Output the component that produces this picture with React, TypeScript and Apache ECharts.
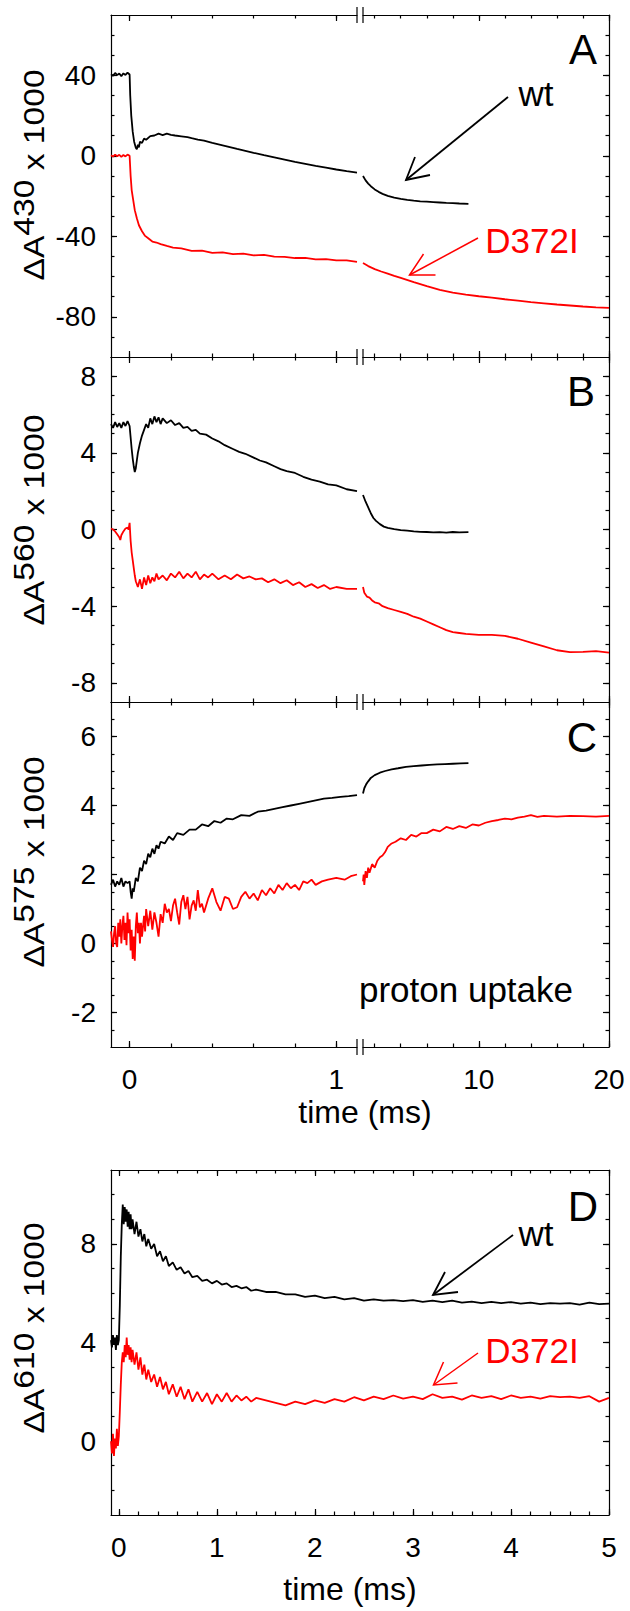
import React, { useEffect, useRef } from "react";
import * as echarts from "echarts";

type Pts = [number, number][];

// ---------------- data (time in ms, value = ΔA x 1000) ----------------
// Panel A : ΔA430
const A_WT_LEFT: Pts = [
  [-0.09, 40.5], [-0.08, 39.8], [-0.07, 41.2], [-0.06, 40.1], [-0.05, 40.9], [-0.04, 39.6], [-0.03, 41.0],
  [-0.02, 40.2], [-0.01, 41.3], [0.0, 40.4], [0.003, 30], [0.008, 20], [0.015, 12], [0.022, 7], [0.03, 4],
  [0.035, 3.2], [0.04, 5.5], [0.045, 4.2], [0.05, 7], [0.06, 6.4], [0.07, 8.6], [0.08, 8], [0.1, 9.8],
  [0.12, 10.1], [0.14, 11], [0.16, 10.3], [0.18, 11], [0.2, 10.4], [0.22, 10.1], [0.25, 9.7], [0.28, 9.3],
  [0.3, 8.8], [0.33, 8.1], [0.36, 7.5], [0.4, 6.4], [0.44, 5.4], [0.48, 4.4], [0.52, 3.4], [0.56, 2.5],
  [0.6, 1.5], [0.65, 0.3], [0.7, -0.8], [0.75, -1.9], [0.8, -3.0], [0.85, -4.0], [0.9, -5.0], [0.95, -5.9],
  [1.0, -6.8], [1.05, -7.6], [1.1, -8.3],
];
const A_WT_RIGHT: Pts = [
  [1.1, -10], [1.3, -12.2], [1.5, -13.8], [1.7, -15.1], [2.0, -16.7], [2.3, -17.9], [2.6, -18.9], [3.0, -19.9],
  [3.5, -20.8], [4.0, -21.4], [4.5, -21.9], [5.0, -22.3], [5.5, -22.6], [6.0, -22.8], [6.5, -23.0], [7.0, -23.2],
  [7.5, -23.4], [8.0, -23.5], [8.5, -23.7], [9.2, -23.9],
];
const A_MUT_LEFT: Pts = [
  [-0.09, 0.3], [-0.08, -0.4], [-0.07, 0.6], [-0.06, -0.2], [-0.05, 0.5], [-0.04, -0.5], [-0.03, 0.4],
  [-0.02, -0.3], [-0.01, 0.6], [0, 0], [0.005, -10], [0.01, -17], [0.016, -21], [0.025, -27], [0.035, -31],
  [0.045, -34.5], [0.06, -37.5], [0.075, -39.8], [0.09, -41], [0.11, -42.6], [0.13, -43.1], [0.15, -43.9],
  [0.18, -44.8], [0.21, -45.6], [0.25, -46.0], [0.3, -47.2], [0.35, -47.1], [0.4, -48.2], [0.45, -48.0],
  [0.5, -48.9], [0.55, -48.6], [0.6, -49.5], [0.65, -49.2], [0.7, -50.1], [0.75, -50.2], [0.8, -50.8],
  [0.85, -50.7], [0.9, -51.5], [0.95, -51.3], [1.0, -52.0], [1.05, -52.0], [1.1, -52.7],
];
const A_MUT_RIGHT: Pts = [
  [1.1, -53.3], [1.5, -54.8], [2, -56.3], [2.5, -57.5], [3, -58.6], [3.5, -59.7], [4, -60.7], [5, -62.8],
  [6, -64.8], [7, -66.6], [8, -68], [9, -69], [10, -69.8], [11, -70.5], [12, -71.3], [13, -72], [14, -72.7],
  [15, -73.3], [16, -73.9], [17, -74.4], [18, -74.9], [19, -75.3], [20, -75.6],
];

// Panel B : ΔA560
const B_WT_LEFT: Pts = [
  [-0.09, 5.5], [-0.08, 5.3], [-0.07, 5.6], [-0.06, 5.35], [-0.05, 5.55], [-0.04, 5.3], [-0.03, 5.6],
  [-0.02, 5.4], [-0.01, 5.65], [0, 5.4], [0.005, 4.8], [0.01, 4.2], [0.015, 3.7], [0.02, 3.3], [0.025, 3.0],
  [0.03, 3.2], [0.035, 3.6], [0.04, 4.0], [0.05, 4.5], [0.06, 4.9], [0.07, 5.2], [0.08, 5.5], [0.09, 5.3],
  [0.1, 5.8], [0.11, 5.5], [0.12, 5.9], [0.13, 5.6], [0.14, 5.85], [0.15, 5.5], [0.16, 5.8], [0.18, 5.55],
  [0.2, 5.7], [0.22, 5.45], [0.24, 5.55], [0.26, 5.3], [0.28, 5.35], [0.3, 5.15], [0.32, 5.2], [0.34, 5.0],
  [0.37, 4.95], [0.4, 4.75], [0.43, 4.6], [0.46, 4.4], [0.5, 4.2], [0.53, 4.05], [0.56, 3.95], [0.6, 3.75],
  [0.63, 3.6], [0.66, 3.5], [0.7, 3.3], [0.73, 3.15], [0.76, 3.05], [0.8, 2.95], [0.84, 2.75], [0.88, 2.6],
  [0.92, 2.5], [0.96, 2.35], [1.0, 2.3], [1.05, 2.1], [1.1, 2.0],
];
const B_WT_RIGHT: Pts = [
  [1.1, 1.8], [1.3, 1.45], [1.5, 1.15], [1.7, 0.85], [1.9, 0.6], [2.1, 0.45], [2.4, 0.28], [2.7, 0.15],
  [3.0, 0.08], [3.5, 0.02], [4, -0.03], [4.5, -0.06], [5, -0.1], [5.5, -0.12], [6, -0.13], [6.5, -0.15],
  [7, -0.14], [7.5, -0.16], [8, -0.13], [8.5, -0.15], [9.2, -0.14],
];
const B_MUT_LEFT: Pts = [
  [-0.09, 0.05], [-0.08, 0.0], [-0.07, -0.1], [-0.06, -0.25], [-0.05, -0.4], [-0.045, -0.55], [-0.04, -0.3],
  [-0.03, -0.1], [-0.02, 0.05], [-0.01, 0.1], [-0.005, 0.0], [0, 0.35], [0.005, -0.6], [0.01, -1.2],
  [0.015, -1.6], [0.02, -2.0], [0.025, -2.4], [0.03, -2.7], [0.04, -3.0], [0.05, -2.6], [0.06, -3.1],
  [0.07, -2.5], [0.08, -2.9], [0.09, -2.4], [0.1, -2.8], [0.11, -2.5], [0.12, -2.7], [0.13, -2.3],
  [0.14, -2.6], [0.16, -2.4], [0.18, -2.65], [0.2, -2.3], [0.22, -2.5], [0.24, -2.2], [0.26, -2.55],
  [0.28, -2.3], [0.3, -2.5], [0.32, -2.2], [0.34, -2.6], [0.36, -2.35], [0.38, -2.5], [0.4, -2.3],
  [0.43, -2.6], [0.46, -2.4], [0.49, -2.6], [0.52, -2.35], [0.55, -2.55], [0.58, -2.45], [0.61, -2.6],
  [0.64, -2.55], [0.67, -2.75], [0.7, -2.6], [0.73, -2.8], [0.76, -2.65], [0.79, -2.9], [0.82, -2.75],
  [0.85, -3.0], [0.88, -2.85], [0.91, -3.05], [0.94, -2.9], [0.97, -3.1], [1.0, -3.0], [1.05, -3.1], [1.1, -3.1],
];
const B_MUT_RIGHT: Pts = [
  [1.1, -3.0], [1.2, -3.3], [1.4, -3.5], [1.6, -3.55], [1.8, -3.7], [2.0, -3.8], [2.3, -3.85], [2.6, -4.0],
  [3.0, -4.1], [3.5, -4.2], [4.0, -4.3], [4.5, -4.4], [5, -4.55], [5.5, -4.65], [6, -4.8], [6.5, -4.95],
  [7, -5.1], [7.5, -5.25], [8, -5.35], [8.5, -5.4], [9, -5.45], [10, -5.5], [11, -5.5], [12, -5.55],
  [13, -5.7], [14, -5.9], [15, -6.1], [16, -6.3], [17, -6.4], [18, -6.38], [19, -6.35], [20, -6.42],
];

// Panel C : ΔA575 (proton uptake)
const C_WT_LEFT: Pts = [
  [-0.09, 1.7], [-0.08, 1.85], [-0.07, 1.65], [-0.06, 1.8], [-0.05, 1.7], [-0.04, 1.9], [-0.03, 1.65],
  [-0.02, 1.8], [-0.01, 1.75], [0, 1.8], [0.005, 1.5], [0.01, 1.3], [0.015, 1.6], [0.02, 1.5], [0.03, 1.9],
  [0.04, 1.8], [0.05, 2.2], [0.06, 2.1], [0.07, 2.4], [0.08, 2.3], [0.09, 2.6], [0.1, 2.5], [0.11, 2.75],
  [0.12, 2.6], [0.13, 2.85], [0.14, 2.75], [0.15, 2.95], [0.17, 2.9], [0.19, 3.1], [0.21, 3.0], [0.23, 3.2],
  [0.26, 3.15], [0.29, 3.3], [0.32, 3.3], [0.35, 3.45], [0.38, 3.4], [0.41, 3.55], [0.44, 3.5], [0.47, 3.62],
  [0.5, 3.6], [0.54, 3.72], [0.58, 3.7], [0.62, 3.82], [0.66, 3.85], [0.7, 3.9], [0.74, 3.95], [0.78, 4.0],
  [0.82, 4.05], [0.86, 4.1], [0.9, 4.15], [0.94, 4.2], [0.98, 4.22], [1.02, 4.25], [1.06, 4.27], [1.1, 4.3],
];
const C_WT_RIGHT: Pts = [
  [1.1, 4.35], [1.2, 4.5], [1.35, 4.62], [1.5, 4.7], [1.7, 4.8], [2.0, 4.88], [2.4, 4.95], [2.8, 5.0],
  [3.3, 5.05], [3.8, 5.08], [4.4, 5.12], [5, 5.14], [5.6, 5.16], [6.2, 5.18], [6.8, 5.19], [7.4, 5.2],
  [8, 5.21], [8.6, 5.22], [9.2, 5.23],
];
const C_MUT_LEFT: Pts = [
  [-0.09, 0.35], [-0.085, 0.1], [-0.08, -0.1], [-0.075, 0.3], [-0.07, 0.5], [-0.065, 0.0], [-0.06, -0.1],
  [-0.055, 0.6], [-0.05, 0.2], [-0.045, 0.7], [-0.04, 0.0], [-0.035, 0.5], [-0.03, 0.8], [-0.025, 0.1],
  [-0.02, 0.6], [-0.015, -0.05], [-0.01, 0.9], [-0.005, 0.3], [0, 0.7], [0.005, -0.2], [0.01, 0.4],
  [0.015, -0.45], [0.02, 0.2], [0.025, -0.5], [0.03, 0.5], [0.035, 0.9], [0.04, 0.3], [0.045, 0.6],
  [0.05, 0.0], [0.055, 0.6], [0.06, 0.2], [0.07, 0.8], [0.075, 0.35], [0.08, 1.0], [0.09, 0.5], [0.1, 0.95],
  [0.11, 0.4], [0.12, 0.9], [0.13, 0.6], [0.14, 0.2], [0.15, 0.85], [0.16, 0.6], [0.17, 1.15], [0.18, 0.9],
  [0.19, 1.0], [0.2, 0.65], [0.21, 1.1], [0.22, 1.3], [0.23, 0.9], [0.24, 0.55], [0.25, 1.2], [0.26, 1.4],
  [0.27, 1.0], [0.28, 1.35], [0.29, 0.7], [0.3, 1.1], [0.31, 1.25], [0.32, 0.95], [0.33, 1.55], [0.34, 1.05],
  [0.35, 1.15], [0.36, 0.9], [0.38, 1.3], [0.4, 1.6], [0.42, 1.2], [0.44, 0.95], [0.46, 1.35], [0.48, 1.3],
  [0.5, 1.0], [0.52, 1.05], [0.54, 1.35], [0.56, 1.5], [0.58, 1.3], [0.6, 1.45], [0.62, 1.25], [0.64, 1.55],
  [0.66, 1.4], [0.68, 1.6], [0.7, 1.45], [0.72, 1.7], [0.74, 1.55], [0.76, 1.75], [0.78, 1.6], [0.8, 1.7],
  [0.82, 1.55], [0.84, 1.8], [0.86, 1.75], [0.88, 1.85], [0.9, 1.7], [0.93, 1.8], [0.96, 1.85], [1.0, 1.9],
  [1.04, 1.85], [1.07, 1.95], [1.1, 2.0],
];
const C_MUT_RIGHT: Pts = [
  [1.1, 1.8], [1.15, 2.0], [1.2, 1.7], [1.3, 2.1], [1.4, 1.9], [1.5, 2.2], [1.6, 2.05], [1.8, 2.3], [2.0, 2.2],
  [2.2, 2.4], [2.4, 2.5], [2.6, 2.55], [2.8, 2.65], [3.0, 2.8], [3.3, 2.9], [3.6, 2.95], [4.0, 3.05], [4.4, 3.0],
  [4.8, 3.15], [5.2, 3.1], [5.6, 3.2], [6.0, 3.2], [6.5, 3.3], [7.0, 3.25], [7.5, 3.38], [8.0, 3.32], [8.5, 3.4],
  [9.0, 3.35], [9.5, 3.45], [10, 3.42], [10.5, 3.5], [11, 3.55], [11.5, 3.58], [12, 3.62], [12.5, 3.6],
  [13, 3.65], [13.5, 3.68], [14, 3.72], [14.5, 3.67], [15, 3.7], [16, 3.68], [17, 3.7], [18, 3.69], [19, 3.68],
  [20, 3.7],
];

// Panel D : ΔA610
const D_WT: Pts = [
  [-0.08, 4.1], [-0.07, 3.8], [-0.06, 4.3], [-0.05, 3.9], [-0.04, 4.2], [-0.03, 3.7], [-0.02, 4.3], [-0.01, 3.9],
  [0, 4.1], [0.01, 5.5], [0.02, 7.5], [0.03, 8.8], [0.04, 9.6], [0.05, 8.8], [0.06, 9.5], [0.07, 8.9],
  [0.08, 9.4], [0.09, 8.7], [0.1, 9.3], [0.11, 8.6], [0.12, 9.2], [0.13, 8.6], [0.14, 9.0], [0.16, 8.4],
  [0.18, 8.9], [0.2, 8.3], [0.22, 8.6], [0.24, 8.1], [0.26, 8.4], [0.28, 7.9], [0.3, 8.2], [0.33, 7.8],
  [0.36, 8.0], [0.39, 7.5], [0.42, 7.7], [0.45, 7.3], [0.48, 7.5], [0.51, 7.1], [0.55, 7.25], [0.59, 6.95],
  [0.63, 7.05], [0.67, 6.8], [0.71, 6.9], [0.75, 6.65], [0.8, 6.7], [0.85, 6.5], [0.9, 6.55], [0.95, 6.4],
  [1.0, 6.5], [1.05, 6.35], [1.1, 6.4], [1.15, 6.25], [1.2, 6.3], [1.25, 6.2], [1.3, 6.25], [1.35, 6.1],
  [1.4, 6.15], [1.5, 6.05], [1.6, 6.05], [1.7, 5.95], [1.8, 5.95], [1.9, 5.85], [2.0, 5.9], [2.1, 5.8],
  [2.2, 5.85], [2.3, 5.75], [2.4, 5.8], [2.5, 5.7], [2.6, 5.75], [2.7, 5.7], [2.8, 5.72], [2.9, 5.68],
  [3.0, 5.72], [3.1, 5.65], [3.2, 5.7], [3.3, 5.64], [3.4, 5.7], [3.5, 5.62], [3.6, 5.66], [3.7, 5.6],
  [3.8, 5.65], [3.9, 5.6], [4.0, 5.64], [4.1, 5.58], [4.2, 5.62], [4.3, 5.56], [4.4, 5.6], [4.5, 5.58],
  [4.6, 5.6], [4.7, 5.54], [4.8, 5.62], [4.9, 5.56], [5.0, 5.58],
];
const D_MUT: Pts = [
  [-0.08, 0.0], [-0.07, -0.5], [-0.06, 0.3], [-0.05, -0.6], [-0.04, 0.1], [-0.03, -0.3], [-0.02, 0.5],
  [-0.01, -0.2], [0, 0.2], [0.01, 1.2], [0.02, 2.3], [0.03, 3.2], [0.04, 3.6], [0.05, 3.2], [0.06, 3.9],
  [0.07, 3.4], [0.08, 4.2], [0.09, 3.5], [0.1, 3.9], [0.11, 3.3], [0.12, 3.8], [0.13, 3.2], [0.14, 3.7],
  [0.16, 3.1], [0.18, 3.6], [0.2, 2.9], [0.22, 3.4], [0.24, 2.7], [0.26, 3.1], [0.28, 2.5], [0.3, 2.9],
  [0.33, 2.4], [0.36, 2.7], [0.39, 2.2], [0.42, 2.6], [0.45, 2.1], [0.48, 2.4], [0.51, 1.9], [0.55, 2.3],
  [0.59, 1.8], [0.63, 2.2], [0.67, 1.7], [0.71, 2.1], [0.75, 1.6], [0.8, 2.0], [0.85, 1.6], [0.9, 1.95],
  [0.95, 1.5], [1.0, 1.9], [1.05, 1.6], [1.1, 1.95], [1.15, 1.6], [1.2, 1.85], [1.25, 1.65], [1.3, 1.8],
  [1.35, 1.6], [1.4, 1.75], [1.5, 1.65], [1.6, 1.55], [1.7, 1.45], [1.8, 1.6], [1.9, 1.5], [2.0, 1.65],
  [2.1, 1.55], [2.2, 1.7], [2.3, 1.6], [2.4, 1.78], [2.5, 1.65], [2.6, 1.8], [2.7, 1.7], [2.8, 1.85],
  [2.9, 1.72], [3.0, 1.8], [3.1, 1.7], [3.2, 1.9], [3.3, 1.75], [3.4, 1.8], [3.5, 1.68], [3.6, 1.85],
  [3.7, 1.75], [3.8, 1.82], [3.9, 1.7], [4.0, 1.85], [4.1, 1.75], [4.2, 1.8], [4.3, 1.72], [4.4, 1.82],
  [4.5, 1.78], [4.6, 1.8], [4.7, 1.75], [4.8, 1.82], [4.9, 1.6], [5.0, 1.75],
];

// ---------------- axes: ranges and ticks ----------------
const X_LEFT_RANGE = [-0.09, 1.1];
const X_RIGHT_RANGE = [1.1, 20];
const X_D_RANGE = [-0.08, 5];
const X_LEFT_MAJOR = [0, 1];
const X_LEFT_MINOR = [0, 0.2, 0.4, 0.6, 0.8, 1.0];
const X_RIGHT_MAJOR = [10, 20];
const X_RIGHT_MINOR = [2, 4, 6, 8, 10, 12, 14, 16, 18, 20];
const X_D_MAJOR = [0, 1, 2, 3, 4, 5];
const X_D_MINOR = [0, 0.2, 0.4, 0.6, 0.8, 1, 1.2, 1.4, 1.6, 1.8, 2, 2.2, 2.4, 2.6, 2.8, 3, 3.2, 3.4, 3.6, 3.8, 4, 4.2, 4.4, 4.6, 4.8, 5];

const A_Y_RANGE = [-100, 70];
const A_Y_MAJOR = [-80, -40, 0, 40];
const A_Y_MINOR = [-90, -80, -70, -60, -50, -40, -30, -20, -10, 0, 10, 20, 30, 40, 50, 60];
const B_Y_RANGE = [-9, 9];
const B_Y_MAJOR = [-8, -4, 0, 4, 8];
const B_Y_MINOR = [-8, -7, -6, -5, -4, -3, -2, -1, 0, 1, 2, 3, 4, 5, 6, 7, 8];
const C_Y_RANGE = [-3, 7];
const C_Y_MAJOR = [-2, 0, 2, 4, 6];
const C_Y_MINOR = [-2.5, -2, -1.5, -1, -0.5, 0, 0.5, 1, 1.5, 2, 2.5, 3, 3.5, 4, 4.5, 5, 5.5, 6, 6.5];
const D_Y_RANGE = [-3, 11];
const D_Y_MAJOR = [0, 4, 8];
const D_Y_MINOR = [-2, -1, 0, 1, 2, 3, 4, 5, 6, 7, 8, 9, 10];

const FONT = '"Liberation Sans", Arial, Helvetica, sans-serif';
const BLACK = "#000000";
const RED = "#ff0000";

function buildOption() {
  const grid: any[] = [];
  const xAxis: any[] = [];
  const yAxis: any[] = [];
  const series: any[] = [];
  const lineStyle = { color: BLACK, width: 1.2 };

  const addGrid = (left: number, top: number, width: number, height: number) => {
    grid.push({ left, top, width, height, containLabel: false, outerBoundsMode: "none", show: false });
    return grid.length - 1;
  };

  const addAxis = (
    list: any[],
    gridIndex: number,
    position: string,
    range: number[],
    major: number[],
    minor: number[],
    showLine: boolean,
    labels: number[] | null,
    margin: number
  ) => {
    const main = {
      type: "value",
      gridIndex,
      position,
      min: range[0],
      max: range[1],
      axisLine: { show: showLine, onZero: false, lineStyle },
      axisTick: { show: true, inside: true, length: 6, customValues: major, lineStyle },
      axisLabel: labels
        ? {
            show: true,
            customValues: labels,
            fontSize: 28,
            fontFamily: FONT,
            color: BLACK,
            margin,
            formatter: (v: number) => String(v),
          }
        : { show: false },
      splitLine: { show: false },
      axisPointer: { show: false },
    };
    const sub = {
      type: "value",
      gridIndex,
      position,
      min: range[0],
      max: range[1],
      axisLine: { show: false, onZero: false },
      axisTick: { show: true, inside: true, length: 3.5, customValues: minor, lineStyle },
      axisLabel: { show: false },
      splitLine: { show: false },
      axisPointer: { show: false },
    };
    list.push(main);
    const idx = list.length - 1;
    list.push(sub);
    return idx;
  };

  const addLine = (xi: number, yi: number, data: Pts, color: string, name: string) => {
    series.push({
      type: "line",
      name,
      xAxisIndex: xi,
      yAxisIndex: yi,
      data,
      showSymbol: false,
      symbol: "none",
      silent: true,
      clip: true,
      lineStyle: { color, width: 1.8 },
    });
  };

  const panels = [
    { top: 15, height: 342, yr: A_Y_RANGE, ymj: A_Y_MAJOR, ymn: A_Y_MINOR, d: [A_WT_LEFT, A_WT_RIGHT, A_MUT_LEFT, A_MUT_RIGHT], lab: false },
    { top: 357, height: 345, yr: B_Y_RANGE, ymj: B_Y_MAJOR, ymn: B_Y_MINOR, d: [B_WT_LEFT, B_WT_RIGHT, B_MUT_LEFT, B_MUT_RIGHT], lab: false },
    { top: 702, height: 345, yr: C_Y_RANGE, ymj: C_Y_MAJOR, ymn: C_Y_MINOR, d: [C_WT_LEFT, C_WT_RIGHT, C_MUT_LEFT, C_MUT_RIGHT], lab: true },
  ];

  panels.forEach((p) => {
    const gl = addGrid(111, p.top, 246, p.height);
    const gr = addGrid(363, p.top, 246, p.height);
    const xl = addAxis(xAxis, gl, "bottom", X_LEFT_RANGE, X_LEFT_MAJOR, X_LEFT_MINOR, true, p.lab ? X_LEFT_MAJOR : null, 18);
    addAxis(xAxis, gl, "top", X_LEFT_RANGE, X_LEFT_MAJOR, X_LEFT_MINOR, true, null, 0);
    const xr = addAxis(xAxis, gr, "bottom", X_RIGHT_RANGE, X_RIGHT_MAJOR, X_RIGHT_MINOR, true, p.lab ? X_RIGHT_MAJOR : null, 18);
    addAxis(xAxis, gr, "top", X_RIGHT_RANGE, X_RIGHT_MAJOR, X_RIGHT_MINOR, true, null, 0);
    const yl = addAxis(yAxis, gl, "left", p.yr, p.ymj, p.ymn, true, p.ymj, 15);
    const yr = addAxis(yAxis, gr, "right", p.yr, p.ymj, p.ymn, true, null, 0);
    addLine(xl, yl, p.d[0], BLACK, "wt");
    addLine(xr, yr, p.d[1], BLACK, "wt");
    addLine(xl, yl, p.d[2], RED, "D372I");
    addLine(xr, yr, p.d[3], RED, "D372I");
  });

  const gd = addGrid(111, 1170, 498, 345);
  const xd = addAxis(xAxis, gd, "bottom", X_D_RANGE, X_D_MAJOR, X_D_MINOR, true, X_D_MAJOR, 18);
  addAxis(xAxis, gd, "top", X_D_RANGE, X_D_MAJOR, X_D_MINOR, true, null, 0);
  const yd = addAxis(yAxis, gd, "left", D_Y_RANGE, D_Y_MAJOR, D_Y_MINOR, true, D_Y_MAJOR, 15);
  addAxis(yAxis, gd, "right", D_Y_RANGE, D_Y_MAJOR, D_Y_MINOR, true, null, 0);
  addLine(xd, yd, D_WT, BLACK, "wt");
  addLine(xd, yd, D_MUT, RED, "D372I");

  // ------------- graphic annotations -------------
  const txt = (text: string, x: number, y: number, size: number, color = BLACK, align = "center") => ({
    type: "text",
    x,
    y,
    silent: true,
    style: {
      text,
      fill: color,
      font: `${size}px ${FONT}`,
      fontSize: size,
      fontFamily: FONT,
      align,
      verticalAlign: "middle",
      textAlign: align,
      textVerticalAlign: "middle",
    },
  });
  const TS = 30;
  const yTitle = (sup: string, y: number) => ({
    type: "text",
    x: 29,
    y,
    rotation: Math.PI / 2,
    scaleX: 1.12,
    silent: true,
    style: {
      text: `{n|ΔA}{s|${sup}}{n| x 1000}`,
      fill: BLACK,
      font: `${TS}px ${FONT}`,
      fontSize: TS,
      fontFamily: FONT,
      align: "center",
      verticalAlign: "middle",
      textAlign: "center",
      textVerticalAlign: "middle",
      rich: {
        n: { font: `${TS}px ${FONT}`, fontSize: TS, fontFamily: FONT, fill: BLACK, lineHeight: 40, verticalAlign: "bottom" },
        s: { font: `${TS}px ${FONT}`, fontSize: TS, fontFamily: FONT, fill: BLACK, lineHeight: 30, verticalAlign: "top" },
      },
    },
  });
  const arrow = (tail: number[], tip: number[], a1: number[], a2: number[], color: string, w: number) => [
    { type: "line", silent: true, shape: { x1: tail[0], y1: tail[1], x2: tip[0], y2: tip[1] }, style: { stroke: color, lineWidth: w } },
    { type: "polyline", silent: true, shape: { points: [a1, tip, a2] }, style: { stroke: color, lineWidth: w, fill: null } },
  ];
  const breakMarks: any[] = [];
  [15, 357, 702, 1047].forEach((y) => {
    [357, 363].forEach((x) => {
      breakMarks.push({
        type: "line",
        silent: true,
        shape: { x1: x, y1: y - 8, x2: x, y2: y + 8 },
        style: { stroke: "#333333", lineWidth: 1.5 },
      });
    });
  });

  const graphic = [
    ...breakMarks,
    txt("A", 583, 49, 42),
    txt("B", 581, 391, 42),
    txt("C", 582, 737, 42),
    txt("D", 583, 1206, 42),
    txt("wt", 536, 93, 35),
    txt("D372I", 532, 240, 35, RED),
    txt("wt", 536, 1233, 35),
    txt("D372I", 532, 1350, 35, RED),
    txt("proton uptake", 466, 989, 35),
    txt("time (ms)", 365, 1112, 32),
    txt("time (ms)", 350, 1589, 32),
    yTitle("430", 175),
    yTitle("560", 520),
    yTitle("575", 862),
    yTitle("610", 1328),
    ...arrow([508, 97], [406, 180], [415, 157], [430, 175], BLACK, 1.8),
    ...arrow([478, 238], [409.5, 275], [423.5, 254], [435.5, 275], RED, 1.5),
    ...arrow([513, 1235], [433, 1295], [445, 1272], [458, 1292], BLACK, 1.8),
    ...arrow([478, 1353], [433.5, 1385], [443.5, 1362], [457.5, 1383], RED, 1.5),
  ];

  return {
    animation: false,
    backgroundColor: "#ffffff",
    grid,
    xAxis,
    yAxis,
    series,
    graphic,
  };
}

export default function App() {
  const ref = useRef<HTMLDivElement>(null);
  useEffect(() => {
    if (!ref.current) return;
    const chart = echarts.init(ref.current, undefined, { renderer: "svg" });
    chart.setOption(buildOption() as any);
    return () => {
      chart.dispose();
    };
  }, []);
  return (
    <div
      ref={ref}
      style={{ position: "absolute", left: 0, top: 0, width: 630, height: 1611, background: "#ffffff" }}
    />
  );
}
